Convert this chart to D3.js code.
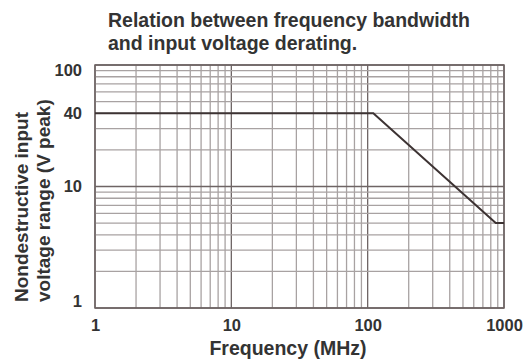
<!DOCTYPE html>
<html>
<head>
<meta charset="utf-8">
<script src="https://cdn.jsdelivr.net/npm/d3@7"></script>
<style>
  body { margin: 0; background: #fff; }
  svg { display: block; }
  text { font-family: "Liberation Sans", Arial, sans-serif; font-weight: bold; fill: #333; }
</style>
</head>
<body>
<div id="chart"></div>
<script>
// Data
const titleLines = ["Relation between frequency bandwidth", "and input voltage derating."];
const xTickValues = [1, 10, 100, 1000];
const yTickValues = [1, 10, 40, 100];
const freqMHz = [1, 110, 870, 1000];
const voltagePeak = [40, 40, 5, 5];
const xLabel = "Frequency (MHz)";
const yLabelLines = ["Nondestructive input", "voltage range (V peak)"];

const W = 531, H = 362;
const svg = d3.select("#chart").append("svg").attr("width", W).attr("height", H);

const x = d3.scaleLog().domain([1, 1000]).range([95, 504]);
const y = d3.scaleLog().domain([1, 100]).range([308, 65]);

// grid values
const xGrid = [];
for (let d = 1; d < 1000; d *= 10) for (let k = 1; k <= 10; k++) xGrid.push(d * k);
const yGrid = [];
for (let d = 1; d < 100; d *= 10) for (let k = 1; k <= 10; k++) yGrid.push(d * k);
const isDecade = d => Math.abs(Math.log10(d) - Math.round(Math.log10(d))) < 1e-9;

const g = svg.append("g");
g.selectAll(".vg").data(Array.from(new Set(xGrid))).enter().append("line")
  .attr("x1", d => x(d)).attr("x2", d => x(d))
  .attr("y1", y(100)).attr("y2", y(1))
  .attr("stroke", d => isDecade(d) ? "#6e6464" : "#a8a2a2")
  .attr("stroke-width", 1.3);
g.selectAll(".hg").data(Array.from(new Set(yGrid))).enter().append("line")
  .attr("y1", d => y(d)).attr("y2", d => y(d))
  .attr("x1", x(1)).attr("x2", x(1000))
  .attr("stroke", d => isDecade(d) ? "#6e6464" : "#a8a2a2")
  .attr("stroke-width", 1.3);

// frame
g.append("rect").attr("x", x(1)).attr("y", y(100))
  .attr("width", x(1000) - x(1)).attr("height", y(1) - y(100))
  .attr("fill", "none").attr("stroke", "#6e6464").attr("stroke-width", 1.5);

// data line
const pts = freqMHz.map((f, i) => [f, voltagePeak[i]]);
g.append("path").datum(pts)
  .attr("d", d3.line().x(d => x(d[0])).y(d => y(d[1])))
  .attr("fill", "none").attr("stroke", "#3d3333").attr("stroke-width", 2);

const fontStyle = sel => sel.style("font-family", '"Liberation Sans", Arial, sans-serif')
  .style("font-weight", "bold").attr("fill", "#333");

// axes (labels only)
const xAxis = d3.axisBottom(x).tickValues(xTickValues).tickFormat(d3.format("d")).tickSize(0).tickPadding(11);
const ax = svg.append("g").attr("transform", `translate(0,${y(1)})`).call(xAxis);
ax.select(".domain").remove();
ax.selectAll("text").style("font-size", "16.5px").call(fontStyle);

const yAxis = d3.axisLeft(y).tickValues(yTickValues).tickFormat(d3.format("d")).tickSize(0).tickPadding(13);
const ay = svg.append("g").attr("transform", `translate(${x(1)},0)`).call(yAxis);
ay.select(".domain").remove();
// keep end labels inside the plot's vertical span
const clampY = v => Math.min(Math.max(y(v), y(100) + 5), y(1) - 7);
ay.selectAll("text").style("font-size", "16.5px").call(fontStyle)
  .attr("y", d => clampY(d) - y(d));

// title
svg.selectAll(".title").data(titleLines).enter().append("text")
  .attr("x", 108).attr("y", (d, i) => 27 + i * 23)
  .style("font-size", "19.5px").text(d => d);

// x label
svg.append("text").attr("x", 288).attr("y", 355)
  .attr("text-anchor", "middle").style("font-size", "19.5px").text(xLabel);

// y label
svg.selectAll(".ylab").data(yLabelLines).enter().append("text")
  .attr("transform", (d, i) => `translate(${28 + i * 22},302) rotate(-90)`)
  .attr("text-anchor", "start").style("font-size", "19px").text(d => d);

// partial glyph cut off at left edge
svg.append("text").attr("x", -7).attr("y", 108).style("font-size", "18px").text(")");
</script>
</body>
</html>
